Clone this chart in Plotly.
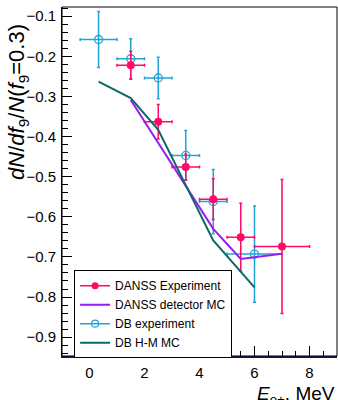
import plotly.graph_objects as go

# DANSS experiment
danss_x = [1.5, 2.5, 3.5, 4.5, 5.5, 7.0]
danss_xerr = [0.5, 0.5, 0.5, 0.5, 0.5, 1.0]
danss_y = [-0.222, -0.363, -0.476, -0.556, -0.651, -0.674]
danss_yerr = [0.035, 0.043, 0.032, 0.051, 0.085, 0.167]

# DANSS detector MC
danss_mc_x = [1.5, 2.5, 3.5, 4.5, 5.5, 7.0]
danss_mc_y = [-0.309, -0.416, -0.523, -0.630, -0.705, -0.692]

# DB experiment
db_x = [0.33, 1.5, 2.5, 3.5, 4.5, 6.0]
db_xerr = [0.67, 0.5, 0.5, 0.5, 0.5, 1.0]
db_y = [-0.158, -0.206, -0.254, -0.447, -0.562, -0.693]
db_yerr = [0.07, 0.05, 0.052, 0.062, 0.08, 0.12]

# DB H-M MC
db_mc_x = [0.33, 1.5, 2.5, 3.5, 4.5, 6.0]
db_mc_y = [-0.263, -0.304, -0.383, -0.52, -0.659, -0.776]

x_ticks = [0, 2, 4, 6, 8]
y_ticks = [-0.1, -0.2, -0.3, -0.4, -0.5, -0.6, -0.7, -0.8, -0.9]

PINK = "#ff0a66"
BLUE = "#23a3d5"
PURPLE = "#9a1af2"
TEAL = "#0d6966"
FONT = "Liberation Sans Narrow, Liberation Sans, Arial, sans-serif"
LFONT = "Liberation Sans, Arial, sans-serif"

fig = go.Figure()

fig.add_trace(go.Scatter(
    x=db_x, y=db_y, mode="markers", showlegend=False,
    marker=dict(symbol="circle-open", size=8, color=BLUE, line=dict(width=1.3)),
    error_x=dict(type="data", array=db_xerr, color=BLUE, thickness=1.5, width=1.5),
    error_y=dict(type="data", array=db_yerr, color=BLUE, thickness=1.5, width=1.5),
))
fig.add_trace(go.Scatter(
    x=danss_x, y=danss_y, mode="markers", showlegend=False,
    marker=dict(symbol="circle", size=8, color=PINK),
    error_x=dict(type="data", array=danss_xerr, color=PINK, thickness=1.5, width=1.5),
    error_y=dict(type="data", array=danss_yerr, color=PINK, thickness=1.5, width=1.5),
))
fig.add_trace(go.Scatter(
    x=danss_mc_x, y=danss_mc_y, mode="lines", name="DANSS detector MC",
    line=dict(color=PURPLE, width=2), legendrank=2,
))
fig.add_trace(go.Scatter(
    x=db_mc_x, y=db_mc_y, mode="lines", name="DB H-M MC",
    line=dict(color=TEAL, width=2), legendrank=4,
))
# legend entries for the data points (line through marker, ROOT "lep" style)
fig.add_trace(go.Scatter(
    x=[None], y=[None], mode="lines+markers", name="DANSS Experiment",
    marker=dict(symbol="circle", size=7, color=PINK),
    line=dict(color=PINK, width=1.5), legendrank=1,
))
fig.add_trace(go.Scatter(
    x=[None], y=[None], mode="lines+markers", name="DB experiment",
    marker=dict(symbol="circle-open", size=7, color=BLUE, line=dict(width=1.2)),
    line=dict(color=BLUE, width=1.5), legendrank=3,
))

fig.update_layout(
    width=338, height=400,
    margin=dict(l=62, r=1, t=7, b=44),
    paper_bgcolor="white", plot_bgcolor="white",
    font=dict(family=FONT, size=14, color="black"),
    showlegend=True,
    legend=dict(
        x=0.044, y=0.246, xanchor="left", yanchor="top",
        bgcolor="white", bordercolor="black", borderwidth=1,
        font=dict(family=LFONT, size=12), itemwidth=30,
        tracegroupgap=0, traceorder="normal",
    ),
    xaxis=dict(
        range=[-1, 9], tickvals=x_ticks, ticktext=[str(v) for v in x_ticks],
        ticks="inside", ticklen=10, tickwidth=1, tickcolor="black",
        minor=dict(dtick=0.5, ticks="inside", ticklen=5, tickcolor="black"),
        showline=True, linecolor="#15156a", linewidth=2,
        showgrid=False, zeroline=False, ticklabelstandoff=2,
        tickfont=dict(family=FONT, size=15),
    ),
    yaxis=dict(
        range=[-0.947, -0.077], tickvals=y_ticks,
        ticktext=["\u2212" + ("%.1f" % abs(v)) for v in y_ticks],
        ticks="inside", ticklen=10, tickwidth=1, tickcolor="black",
        minor=dict(dtick=0.02, ticks="inside", ticklen=6, tickcolor="black"),
        showline=True, linecolor="black", linewidth=1,
        showgrid=False, zeroline=False, ticklabelstandoff=2,
        tickfont=dict(family=FONT, size=15),
    ),
    shapes=[dict(type="rect", xref="paper", yref="paper", x0=0, y0=0, x1=1, y1=1,
                 line=dict(color="black", width=1), fillcolor="rgba(0,0,0,0)", layer="above")],
    annotations=[
        dict(text="<i>E</i><sub>e+</sub>, MeV", xref="paper", yref="paper",
             x=1.0, y=0, xanchor="right", yanchor="top", yshift=-25,
             showarrow=False, font=dict(family=FONT, size=19)),
        dict(text="<i>dN</i>/<i>df</i><sub>9</sub>/<i>N</i>(<i>f</i><sub>9</sub>=0.3)",
             xref="paper", yref="paper", x=-0.16, y=0.728, textangle=-90,
             xanchor="center", yanchor="middle", showarrow=False,
             font=dict(family=FONT, size=22)),
    ],
)

fig.write_html("out.html")
